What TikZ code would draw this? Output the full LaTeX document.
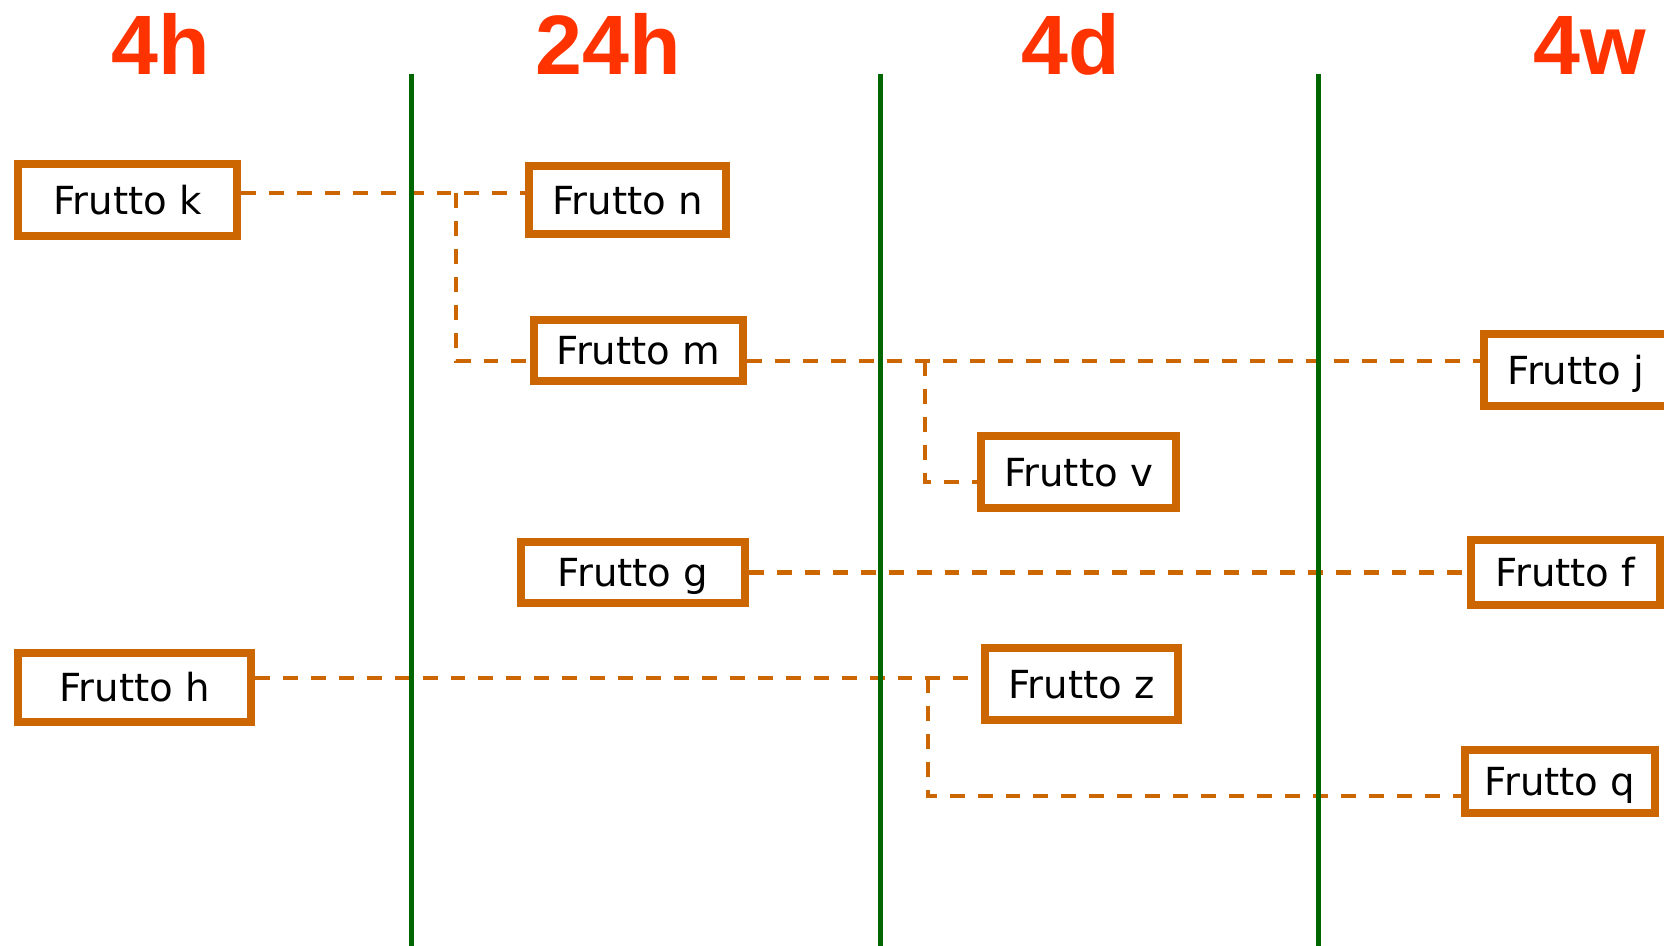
\documentclass[tikz,border=0pt]{standalone}
\usepackage{fontspec}
\setmainfont{DejaVu Sans}
\newfontfamily\headfont{Liberation Sans}
\definecolor{fruitorange}{HTML}{CC6600}
\definecolor{headred}{HTML}{FF3300}
\definecolor{linegreen}{HTML}{006600}
\tikzset{
fruit/.style={draw=fruitorange, line width=4.55pt, fill=white, inner sep=0pt,
  text height=16pt, text depth=0pt, font=\fontsize{22}{26}\selectfont},
fruitsize/.style 2 args={minimum width=#1*0.02cm, minimum height=#2*0.02cm},
link/.style={draw=fruitorange, line width=2.4pt, dash pattern=on 8.5pt off 7.4pt},
timeline/.style={draw=linegreen, line width=2.85pt},
heading/.style={text=headred, anchor=base, inner sep=0pt,
  font=\headfont\bfseries\fontsize{48}{50}\selectfont}
}

\begin{document}
\begin{tikzpicture}[x=0.02cm, y=-0.02cm]
    \useasboundingbox (0,0) rectangle (1664,946);

    \node[heading] (t4h) at (161,75) {4h};
    \node[heading] (t24h) at (608,75) {24h};
    \node[heading] (t4d) at (1071,75) {4d};
    \node[heading] (t4w) at (1590,75) {4w};

    \node[fruit, fruitsize={219}{72}] (k) at (127.5,200) {Frutto k};
    \node[fruit, fruitsize={197}{68}] (n) at (627.5,200) {Frutto n};
    \node[fruit, fruitsize={209}{61}] (m) at (638.5,350.5) {Frutto m};
    \node[fruit, fruitsize={184}{72}] (j) at (1576,370) {Frutto j};
    \node[fruit, fruitsize={195}{72}] (v) at (1078.5,472) {Frutto v};
    \node[fruit, fruitsize={224}{61}] (g) at (633,572.5) {Frutto g};
    \node[fruit, fruitsize={189}{65}] (f) at (1565.5,572.5) {Frutto f};
    \node[fruit, fruitsize={233}{69}] (h) at (134.5,687.5) {Frutto h};
    \node[fruit, fruitsize={193}{72}] (z) at (1081.5,684) {Frutto z};
    \node[fruit, fruitsize={190}{63}] (q) at (1560,781.5) {Frutto q};

    % branch points
    \coordinate (kn) at (456,193);
    \coordinate (mj) at (925,361);
    \coordinate (hz) at (928,678);
    \coordinate (rowv) at (0,482);
    \coordinate (rowq) at (0,796);

    \draw[link] (k.east |- kn) -- (n.west |- kn);
    \draw[link] (kn) |- (m.west |- mj);
    \draw[link] (m.east |- mj) -- (j.west |- mj);
    \draw[link] (mj) |- (v.west |- rowv);
    \draw[link] (g.east) -- (f.west);
    \draw[link] (h.east |- hz) -- (z.west |- hz);
    \draw[link] (hz) |- (q.west |- rowq);

    \foreach \x in {411,880,1318}
        \draw[timeline] (\x,74) -- (\x,946);

\end{tikzpicture}
\end{document}
